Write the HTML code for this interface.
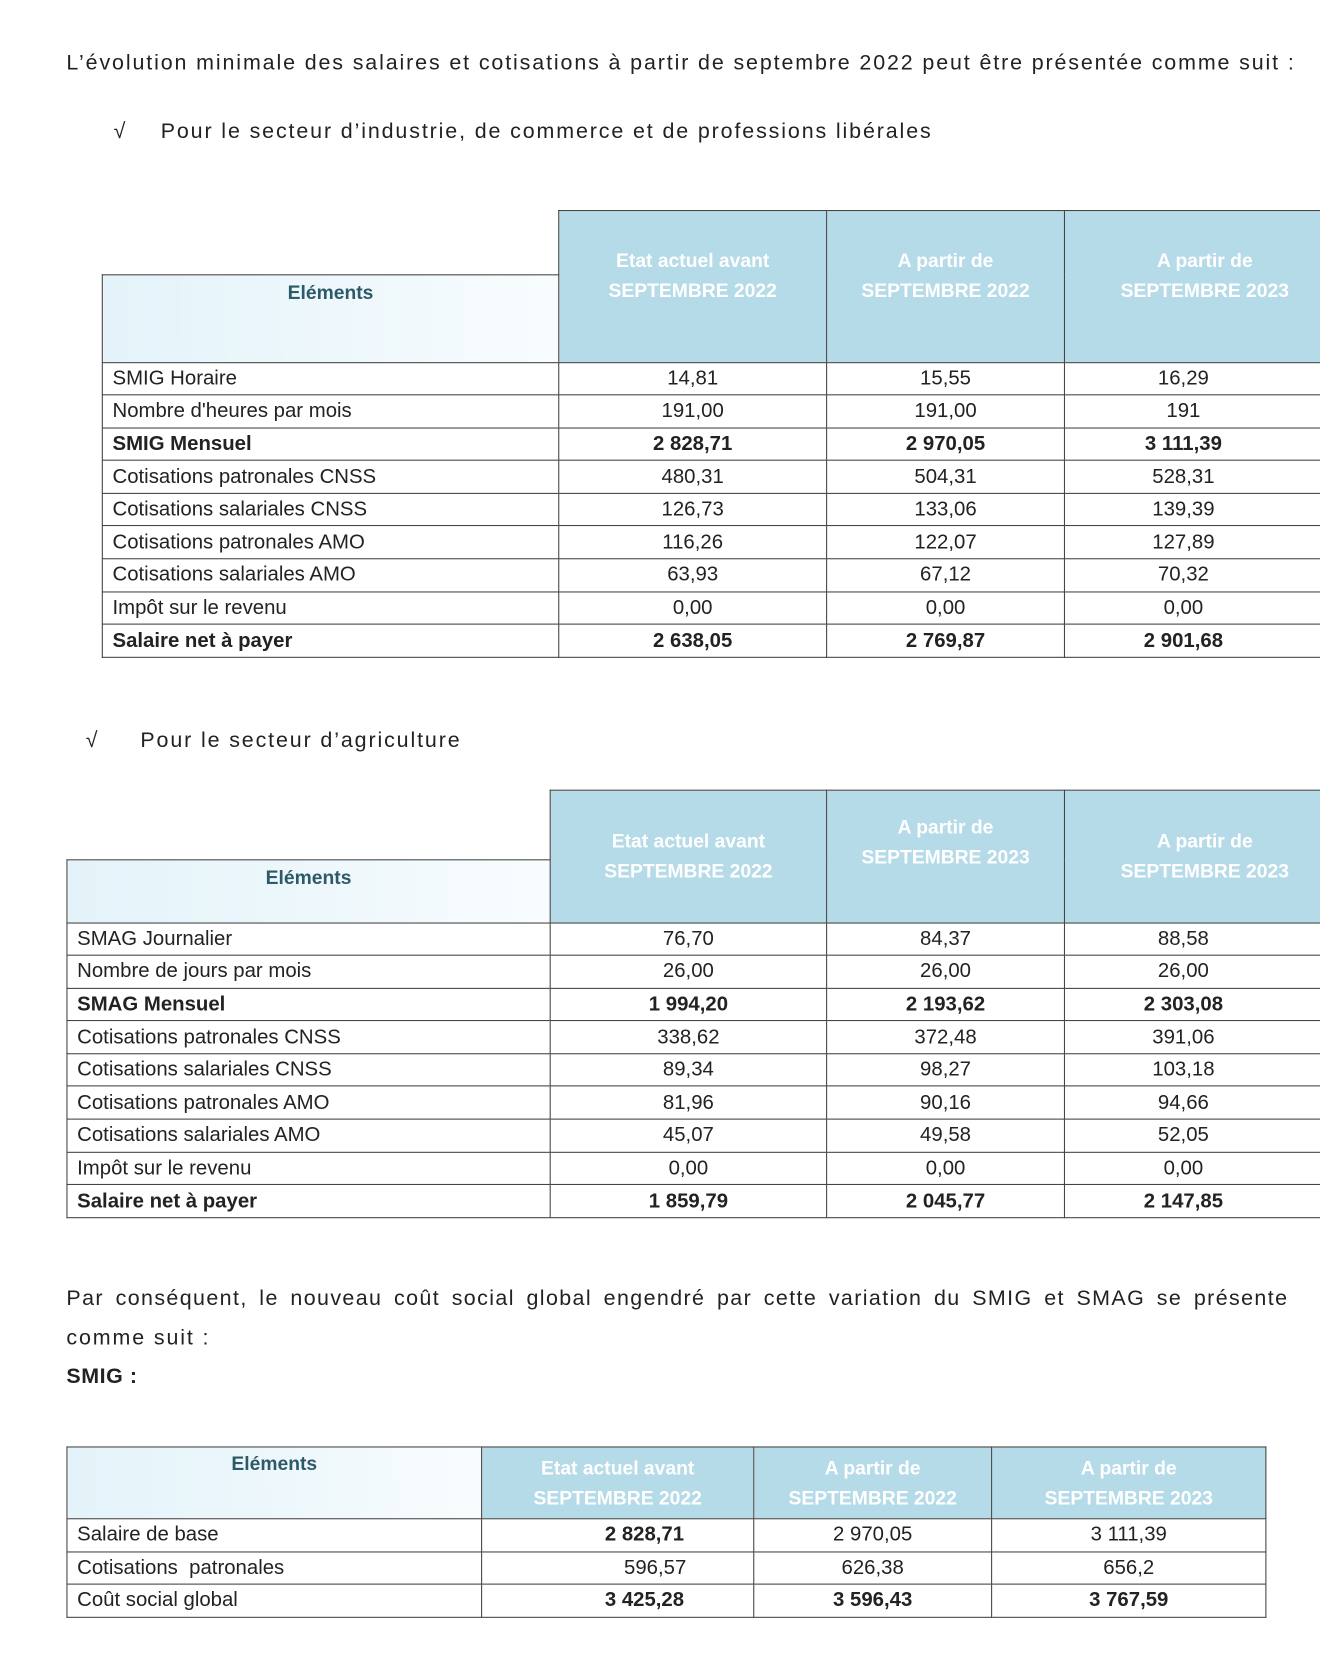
<!DOCTYPE html>
<html><head><meta charset="utf-8"><style>
html,body{margin:0;padding:0;background:#fff;}
body{width:1320px;height:1680px;overflow:hidden;position:relative;}
#w{position:absolute;left:0;top:0;width:1232px;height:1568px;transform:scale(1.07143);transform-origin:0 0;font-family:"Liberation Sans",sans-serif;color:#222;}
.t{position:absolute;font-size:20px;white-space:nowrap;letter-spacing:1.75px;line-height:24px;}
table{position:absolute;border-collapse:collapse;table-layout:fixed;font-size:19px;}
td{border:1.5px solid #444;padding:0 0 0 9px;height:29.6px;line-height:29px;white-space:nowrap;overflow:hidden;}
td.n{text-align:center;padding:0;}
tr.b td{font-weight:bold;}
.h{background:#b6dbe8;color:#fff;font-weight:bold;text-align:center;padding:0;line-height:28px;font-size:18px;}
.e{background:linear-gradient(90deg,#e3f3f9,#f8fcfe);color:#2d5a68;font-weight:bold;text-align:center;padding:0;vertical-align:top;font-size:18px;}
.x{border:none;background:none;}
</style></head><body><div id="w">
<div class="t" style="left:62px;top:47px;">L’évolution minimale des salaires et cotisations à partir de septembre 2022 peut être présentée comme suit :</div>
<div class="t" style="left:106px;top:111px;">√</div>
<div class="t" style="left:150px;top:111px;">Pour le secteur d’industrie, de commerce et de professions libérales</div>

<table style="left:95px;top:196px;width:1160px;">
<colgroup><col style="width:426px"><col style="width:250px"><col style="width:222px"><col style="width:262px"></colgroup>
<tr><td class="x" style="height:59px"></td><td class="h" rowspan="2" style="vertical-align:top;padding-top:32px;">Etat actuel avant<br>SEPTEMBRE 2022</td><td class="h" rowspan="2" style="vertical-align:top;padding-top:32px;">A partir de<br>SEPTEMBRE 2022</td><td class="h" rowspan="2" style="vertical-align:top;padding-top:32px;">A partir de<br>SEPTEMBRE 2023</td></tr>
<tr><td class="e" style="height:79px;padding-top:2px;line-height:28px;">Eléments</td></tr>
<tr><td>SMIG Horaire</td><td class="n">14,81</td><td class="n">15,55</td><td class="n" style="padding-right:40px">16,29</td></tr>
<tr><td>Nombre d'heures par mois</td><td class="n">191,00</td><td class="n">191,00</td><td class="n" style="padding-right:40px">191</td></tr>
<tr class="b"><td>SMIG Mensuel</td><td class="n">2 828,71</td><td class="n">2 970,05</td><td class="n" style="padding-right:40px">3 111,39</td></tr>
<tr><td>Cotisations patronales CNSS</td><td class="n">480,31</td><td class="n">504,31</td><td class="n" style="padding-right:40px">528,31</td></tr>
<tr><td>Cotisations salariales CNSS</td><td class="n">126,73</td><td class="n">133,06</td><td class="n" style="padding-right:40px">139,39</td></tr>
<tr><td>Cotisations patronales AMO</td><td class="n">116,26</td><td class="n">122,07</td><td class="n" style="padding-right:40px">127,89</td></tr>
<tr><td>Cotisations salariales AMO</td><td class="n">63,93</td><td class="n">67,12</td><td class="n" style="padding-right:40px">70,32</td></tr>
<tr><td>Impôt sur le revenu</td><td class="n">0,00</td><td class="n">0,00</td><td class="n" style="padding-right:40px">0,00</td></tr>
<tr class="b"><td>Salaire net à payer</td><td class="n">2 638,05</td><td class="n">2 769,87</td><td class="n" style="padding-right:40px">2 901,68</td></tr>
</table>

<div class="t" style="left:80px;top:679px;">√</div>
<div class="t" style="left:131px;top:679px;">Pour le secteur d’agriculture</div>

<table style="left:62px;top:737px;width:1193px;">
<colgroup><col style="width:451px"><col style="width:258px"><col style="width:222px"><col style="width:262px"></colgroup>
<tr><td class="x" style="height:64px"></td><td class="h" rowspan="2" style="padding-top:0;">Etat actuel avant<br>SEPTEMBRE 2022</td><td class="h" rowspan="2" style="vertical-align:top;padding-top:20px;">A partir de<br>SEPTEMBRE 2023</td><td class="h" rowspan="2">A partir de<br>SEPTEMBRE 2023</td></tr>
<tr><td class="e" style="height:58px;line-height:32px;">Eléments</td></tr>
<tr><td>SMAG Journalier</td><td class="n">76,70</td><td class="n">84,37</td><td class="n" style="padding-right:40px">88,58</td></tr>
<tr><td>Nombre de jours par mois</td><td class="n">26,00</td><td class="n">26,00</td><td class="n" style="padding-right:40px">26,00</td></tr>
<tr class="b"><td>SMAG Mensuel</td><td class="n">1 994,20</td><td class="n">2 193,62</td><td class="n" style="padding-right:40px">2 303,08</td></tr>
<tr><td>Cotisations patronales CNSS</td><td class="n">338,62</td><td class="n">372,48</td><td class="n" style="padding-right:40px">391,06</td></tr>
<tr><td>Cotisations salariales CNSS</td><td class="n">89,34</td><td class="n">98,27</td><td class="n" style="padding-right:40px">103,18</td></tr>
<tr><td>Cotisations patronales AMO</td><td class="n">81,96</td><td class="n">90,16</td><td class="n" style="padding-right:40px">94,66</td></tr>
<tr><td>Cotisations salariales AMO</td><td class="n">45,07</td><td class="n">49,58</td><td class="n" style="padding-right:40px">52,05</td></tr>
<tr><td>Impôt sur le revenu</td><td class="n">0,00</td><td class="n">0,00</td><td class="n" style="padding-right:40px">0,00</td></tr>
<tr class="b"><td>Salaire net à payer</td><td class="n">1 859,79</td><td class="n">2 045,77</td><td class="n" style="padding-right:40px">2 147,85</td></tr>
</table>

<div class="t" style="left:62px;top:1200px;letter-spacing:1.3px;word-spacing:4px;">Par conséquent, le nouveau coût social global engendré par cette variation du SMIG et SMAG se présente</div>
<div class="t" style="left:62px;top:1237px;">comme suit :</div>
<div class="t" style="left:62px;top:1273px;font-weight:bold;letter-spacing:0.5px;">SMIG :</div>

<table style="left:62px;top:1350px;width:1119px;">
<colgroup><col style="width:387px"><col style="width:254px"><col style="width:222px"><col style="width:256px"></colgroup>
<tr><td class="e" style="height:66px;line-height:30px;">Eléments</td><td class="h">Etat actuel avant<br>SEPTEMBRE 2022</td><td class="h">A partir de<br>SEPTEMBRE 2022</td><td class="h">A partir de<br>SEPTEMBRE 2023</td></tr>
<tr><td>Salaire de base</td><td class="n" style="font-weight:bold;padding-left:50px">2 828,71</td><td class="n">2 970,05</td><td class="n">3 111,39</td></tr>
<tr><td>Cotisations&nbsp; patronales</td><td class="n" style="padding-left:70px">596,57</td><td class="n">626,38</td><td class="n">656,2</td></tr>
<tr class="b"><td style="font-weight:normal">Coût social global</td><td class="n" style="padding-left:50px">3 425,28</td><td class="n">3 596,43</td><td class="n">3 767,59</td></tr>
</table>
</div></body></html>
